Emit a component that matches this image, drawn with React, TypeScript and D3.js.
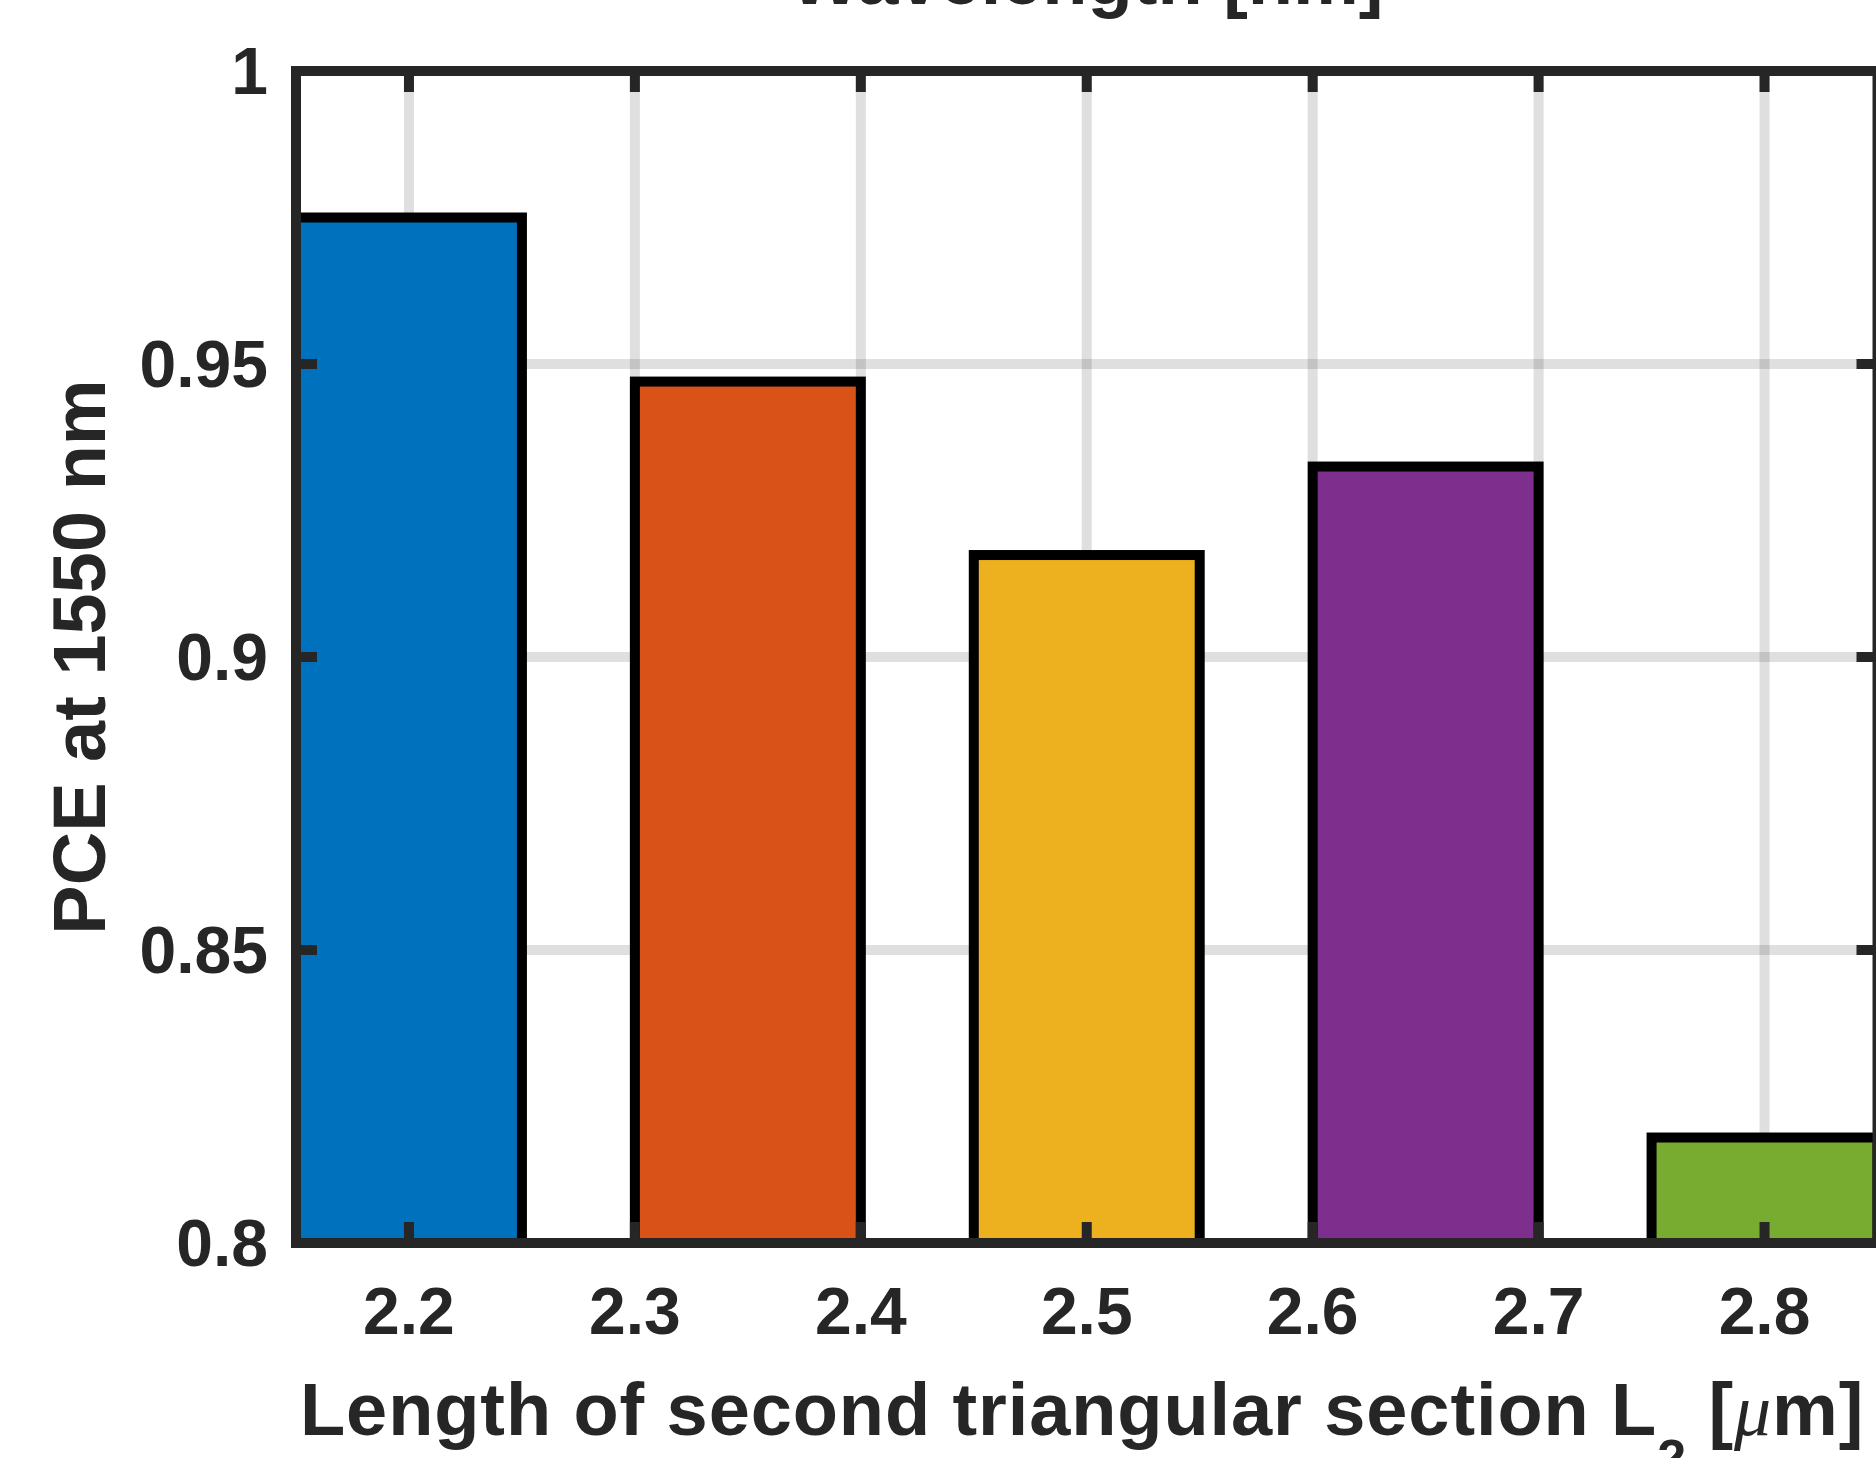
import React, { useEffect, useRef } from 'react';
import * as d3 from 'd3';

// bar positions (L2 in um) and PCE at 1550 nm
const lengths = [2.2, 2.35, 2.5, 2.65, 2.8];
const pce = [0.975, 0.947, 0.9174, 0.9325, 0.818];
const barColors = ['#0072BD', '#D95319', '#EDB120', '#7E2F8E', '#77AC30'];
const xTicks = [2.2, 2.3, 2.4, 2.5, 2.6, 2.7, 2.8];
const yTicks = [0.8, 0.85, 0.9, 0.95, 1];

const W = 1876;
const H = 1458;
const AX = '#262626';
const FONT = '"Liberation Sans", Arial, Helvetica, sans-serif';

const App = () => {
  const svgRef = useRef<SVGSVGElement>(null);

  useEffect(() => {
    const svg = d3.select(svgRef.current).attr('width', W).attr('height', H);
    svg.selectAll('*').remove();

    const left = 296, right = 1877.5, top = 71, bottom = 1243;
    const x = d3.scaleLinear().domain([2.15, 2.85]).range([left, right]);
    const y = d3.scaleLinear().domain([0.8, 1]).range([bottom, top]);
    const barW = 0.1;
    const tickLen = 21;

    // grid
    const grid = svg.append('g').attr('stroke', AX).attr('stroke-opacity', 0.15).attr('stroke-width', 10);
    grid.selectAll('.gx').data(xTicks).enter().append('line')
      .attr('x1', d => x(d)).attr('x2', d => x(d)).attr('y1', top).attr('y2', bottom);
    grid.selectAll('.gy').data(yTicks).enter().append('line')
      .attr('x1', left).attr('x2', right).attr('y1', d => y(d)).attr('y2', d => y(d));

    // bars
    svg.append('g').selectAll('rect').data(lengths).enter().append('rect')
      .attr('x', d => x(d - barW / 2))
      .attr('width', x(barW) - x(0))
      .attr('y', (d, i) => y(pce[i]))
      .attr('height', (d, i) => y(0.8) - y(pce[i]))
      .attr('fill', (d, i) => barColors[i])
      .attr('stroke', '#000')
      .attr('stroke-width', 10);

    // axes box + ticks
    const ax = svg.append('g').attr('stroke', AX).attr('stroke-width', 10).attr('fill', 'none');
    ax.append('rect').attr('x', left).attr('y', top).attr('width', right - left).attr('height', bottom - top);
    xTicks.forEach(t => {
      ax.append('line').attr('x1', x(t)).attr('x2', x(t)).attr('y1', bottom).attr('y2', bottom - tickLen);
      ax.append('line').attr('x1', x(t)).attr('x2', x(t)).attr('y1', top).attr('y2', top + tickLen);
    });
    yTicks.forEach(t => {
      ax.append('line').attr('x1', left).attr('x2', left + tickLen).attr('y1', y(t)).attr('y2', y(t));
      ax.append('line').attr('x1', right).attr('x2', right - tickLen).attr('y1', y(t)).attr('y2', y(t));
    });

    const txt = svg.append('g').attr('fill', AX).attr('font-family', FONT).attr('font-weight', 'bold');

    // tick labels
    txt.selectAll('.xl').data(xTicks).enter().append('text')
      .attr('x', d => x(d)).attr('y', 1334)
      .attr('text-anchor', 'middle').attr('font-size', 66)
      .text(d => d3.format('.1f')(d));
    txt.selectAll('.yl').data(yTicks).enter().append('text')
      .attr('x', 268).attr('y', d => y(d) + 23)
      .attr('text-anchor', 'end').attr('font-size', 66)
      .text(d => String(d));

    // y label
    txt.append('text')
      .attr('transform', `translate(105,${(top + bottom) / 2}) rotate(-90)`)
      .attr('text-anchor', 'middle').attr('font-size', 74)
      .text('PCE at 1550 nm');

    // x label
    const xl = txt.append('text').attr('x', 300).attr('y', 1435).attr('font-size', 74)
      .attr('letter-spacing', 0.9);
    xl.append('tspan').text('Length of second triangular section L');
    xl.append('tspan').attr('font-size', 52).attr('dy', 41).text('2');
    xl.append('tspan').attr('dy', -41).text(' [');
    xl.append('tspan').attr('font-family', '"Liberation Serif", "Times New Roman", serif')
      .attr('font-style', 'italic').attr('font-weight', 'normal').text('μ');
    xl.append('tspan').text('m]');

    // title (cut off at top)
    txt.append('text')
      .attr('x', (left + right) / 2).attr('y', 4)
      .attr('text-anchor', 'middle').attr('font-size', 74)
      .text('Wavelength [nm]');
  }, []);

  return (
    <svg ref={svgRef} style={{ position: 'absolute', left: 0, top: 0, background: '#fff' }}></svg>
  );
};

export default App;
